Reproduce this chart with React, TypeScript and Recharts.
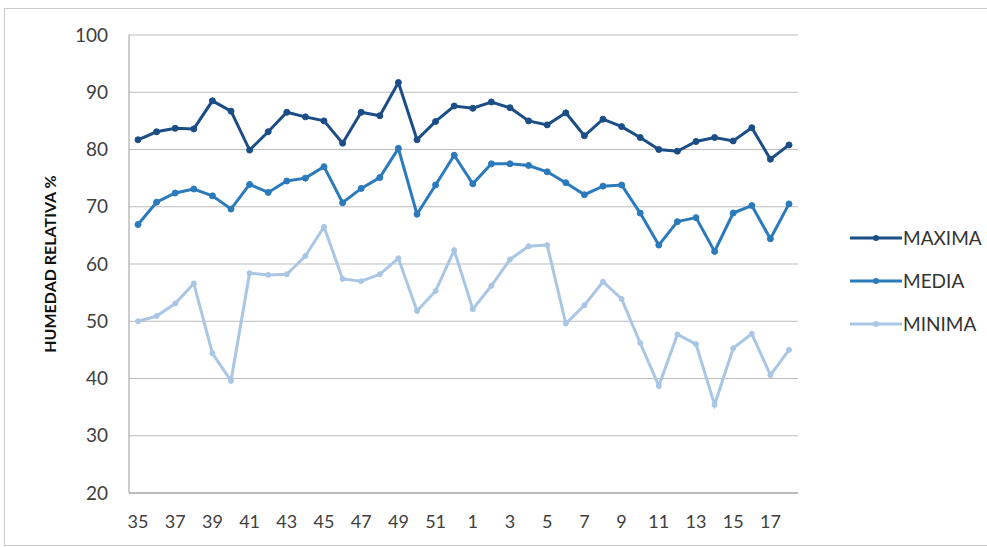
import { CartesianGrid, Line, LineChart, XAxis, YAxis } from 'recharts'

const weeks = [
  '35', '36', '37', '38', '39', '40', '41', '42', '43', '44', '45', '46', '47', '48', '49', '50', '51', '52',
  '1', '2', '3', '4', '5', '6', '7', '8', '9', '10', '11', '12', '13', '14', '15', '16', '17', '18',
];

const maxima = [
  81.7, 83.1, 83.7, 83.6, 88.5, 86.7, 79.9, 83.1, 86.5, 85.7, 85.0, 81.1, 86.5, 85.9, 91.7, 81.7, 84.9, 87.6,
  87.2, 88.3, 87.3, 85.0, 84.3, 86.4, 82.4, 85.3, 84.0, 82.1, 80.0, 79.7, 81.4, 82.1, 81.5, 83.8, 78.3, 80.8,
];

const media = [
  66.9, 70.8, 72.4, 73.1, 71.9, 69.6, 73.9, 72.5, 74.5, 75.0, 77.0, 70.7, 73.2, 75.1, 80.2, 68.7, 73.8, 79.0,
  74.0, 77.5, 77.5, 77.2, 76.1, 74.2, 72.1, 73.6, 73.8, 68.9, 63.3, 67.4, 68.1, 62.2, 68.9, 70.2, 64.4, 70.5,
];

const minima = [
  50.0, 50.9, 53.1, 56.6, 44.4, 39.6, 58.4, 58.1, 58.2, 61.4, 66.5, 57.4, 57.0, 58.2, 61.0, 51.8, 55.3, 62.4,
  52.1, 56.2, 60.8, 63.1, 63.3, 49.6, 52.8, 56.9, 53.9, 46.2, 38.7, 47.7, 46.0, 35.4, 45.3, 47.8, 40.6, 45.0,
];

const yTicks = [20, 30, 40, 50, 60, 70, 80, 90, 100];

const series = [
  { key: 'MAXIMA', color: '#1b4d86' },
  { key: 'MEDIA', color: '#2a7abc' },
  { key: 'MINIMA', color: '#a9c6e5' },
];

const data = weeks.map((w, i) => ({
  week: w,
  MAXIMA: maxima[i],
  MEDIA: media[i],
  MINIMA: minima[i],
}));

const font = 'Lato, "Open Sans", sans-serif';

function LegendBox() {
  return (
    <div style={{ position: 'absolute', left: 850, top: 216, fontFamily: font, fontSize: 19, color: '#333' }}>
      {series.map((s) => (
        <div key={s.key} style={{ display: 'flex', alignItems: 'center', height: 43 }}>
          <svg width={52} height={10}>
            <line x1={0} y1={5} x2={52} y2={5} stroke={s.color} strokeWidth={3} />
            <circle cx={26} cy={5} r={3} fill={s.color} />
          </svg>
          <span style={{ marginLeft: 1, whiteSpace: 'nowrap' }}>{s.key}</span>
        </div>
      ))}
    </div>
  );
}

export default function App() {
  return (
    <div style={{ position: 'absolute', left: 0, top: 0, width: 987, height: 547, background: '#fff', overflow: 'hidden' }}>
      <div style={{ position: 'absolute', left: 4, top: 8, width: 1000, height: 536, border: '1px solid #c9c9c9' }} />
      <div style={{ position: 'absolute', left: 0, top: 0 }}>
        <LineChart width={987} height={547} data={data} margin={{ top: 35, right: 189, bottom: 0, left: 0 }}>
          <CartesianGrid vertical={false} stroke="#bdbdbd" strokeWidth={1} />
          <XAxis
            dataKey="week"
            interval={1}
            padding={{ left: 9, right: 9 }}
            tickLine={false}
            axisLine={{ stroke: '#9a9a9a' }}
            tickSize={14}
            tickMargin={8}
            tick={{ fill: '#404040', fontSize: 18, fontFamily: font }}
            height={54}
          />
          <YAxis
            domain={[20, 100]}
            ticks={yTicks}
            interval={0}
            width={129}
            tickLine={false}
            axisLine={{ stroke: '#9a9a9a' }}
            tickSize={14}
            tickMargin={7}
            tick={{ fill: '#404040', fontSize: 19, fontFamily: font }}
            label={{
              value: 'HUMEDAD RELATIVA %',
              angle: -90,
              position: 'insideLeft',
              offset: 50,
              style: { fontFamily: font, fontSize: 16, fontWeight: 700, fill: '#111', textAnchor: 'middle' },
            }}
          />
          {series.map((s) => (
            <Line
              key={s.key}
              dataKey={s.key}
              stroke={s.color}
              strokeWidth={3}
              dot={{ r: s.key === 'MINIMA' ? 2.5 : 3, fill: s.color, stroke: s.color, strokeWidth: 1 }}
              isAnimationActive={false}
            />
          ))}
        </LineChart>
      </div>
      <LegendBox />
    </div>
  );
}
